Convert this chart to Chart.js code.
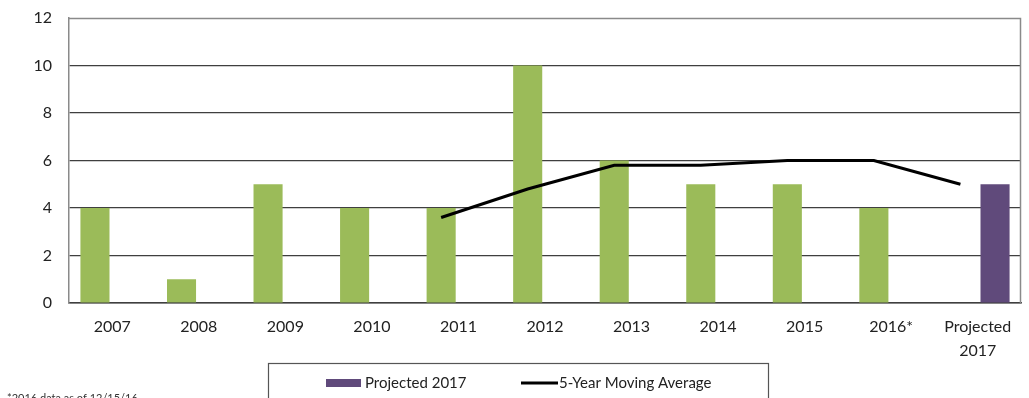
<!DOCTYPE html>
<html>
<head>
<meta charset="utf-8">
<script src="https://cdn.jsdelivr.net/npm/chart.js@4/dist/chart.umd.min.js"></script>
<style>
  html, body { margin: 0; padding: 0; background: #fff; }
  #wrap { width: 1029px; height: 398px; position: relative; }
</style>
</head>
<body>
<div id="wrap"><canvas id="c"></canvas></div>
<script>
// Category labels (multi-line where needed)
const categories = ['2007', '2008', '2009', '2010', '2011', '2012', '2013', '2014', '2015', '2016*', ['Projected', '2017']];
// Yearly counts (green bars); the projected year has no actual value
const actualValues = [4, 1, 5, 4, 4, 10, 6, 5, 5, 4, null];
// Projection for 2017 (purple bar)
const projectedValues = [null, null, null, null, null, null, null, null, null, null, 5];
// 5-year moving average, starting at 2011
const movingAverage = [null, null, null, null, 3.6, 4.8, 5.8, 5.8, 6, 6, 5];
// Value axis ticks
const yTicks = [0, 2, 4, 6, 8, 10, 12];
const footnote = '*2016 data as of 12/15/16';

const GREEN = '#9BBB59';
const PURPLE = '#604A7B';
const GRID_DARK = '#3f3f3f';
const BORDER_GREY = '#8a8a8a';
const FONT = 'Lato, "Open Sans", sans-serif';

// Each category holds two side-by-side slots: actual (left) and projected (right)
const GROUP_PCT = 0.8;
const slotShift = GROUP_PCT / 4;
const SLOT_PCT = GROUP_PCT / 2;
const BAR_PCT = 0.84;

// Convert a per-category series into points on the index axis, shifted into its slot
const toPoints = (values, shift) => values
  .map((v, i) => (v === null ? null : { x: i + shift, y: v }))
  .filter(p => p !== null);

const actualPoints = toPoints(actualValues, -slotShift);
const projectedPoints = toPoints(projectedValues, slotShift);
const averagePoints = toPoints(movingAverage, -slotShift);

// Grey frame on the top and right edges of the plot area
const frame = {
  id: 'frame',
  beforeDatasetsDraw(chart) {
    const { ctx, chartArea: a } = chart;
    ctx.save();
    ctx.strokeStyle = BORDER_GREY;
    ctx.lineWidth = 1.5;
    ctx.beginPath();
    ctx.moveTo(a.left, a.top + 0.5);
    ctx.lineTo(a.right - 0.5, a.top + 0.5);
    ctx.lineTo(a.right - 0.5, a.bottom);
    ctx.stroke();
    ctx.restore();
  }
};

// Boxed legend below the chart and the footnote
const boxLegend = {
  id: 'boxLegend',
  afterDraw(chart) {
    const { ctx, width } = chart;
    const boxW = 500, boxX = Math.round(width / 2 - boxW / 2 + 3), boxY = 363;
    ctx.save();
    ctx.strokeStyle = '#555';
    ctx.lineWidth = 1.2;
    ctx.strokeRect(boxX + 0.5, boxY + 0.5, boxW, 60);

    const y = 383;
    ctx.font = '15px ' + FONT;
    ctx.textBaseline = 'middle';

    const ds = chart.data.datasets;
    // Projected 2017 swatch
    ctx.fillStyle = ds[1].backgroundColor;
    ctx.fillRect(boxX + 58, y - 4, 35, 8);
    ctx.fillStyle = '#222';
    ctx.fillText(ds[1].label, boxX + 97, y);
    // Moving average line sample
    ctx.strokeStyle = ds[2].borderColor;
    ctx.lineWidth = 3;
    ctx.beginPath();
    ctx.moveTo(boxX + 253, y);
    ctx.lineTo(boxX + 290, y);
    ctx.stroke();
    ctx.fillText(ds[2].label, boxX + 291, y);

    ctx.font = '11px ' + FONT;
    ctx.textBaseline = 'top';
    ctx.fillStyle = '#333';
    ctx.fillText(footnote, 7, 393);
    ctx.restore();
  }
};

new Chart(document.getElementById('c'), {
  type: 'bar',
  data: {
    labels: categories,
    datasets: [
      {
        type: 'bar',
        label: 'Actual',
        data: actualPoints,
        backgroundColor: GREEN,
        grouped: false,
        categoryPercentage: SLOT_PCT,
        barPercentage: BAR_PCT,
        xAxisID: 'xs',
        order: 2
      },
      {
        type: 'bar',
        label: 'Projected 2017',
        data: projectedPoints,
        backgroundColor: PURPLE,
        grouped: false,
        categoryPercentage: SLOT_PCT,
        barPercentage: BAR_PCT,
        xAxisID: 'xs',
        order: 2
      },
      {
        type: 'line',
        label: '5-Year Moving Average',
        data: averagePoints,
        xAxisID: 'xs',
        borderColor: '#000',
        borderWidth: 3,
        pointRadius: 0,
        tension: 0,
        fill: false,
        order: 1
      }
    ]
  },
  options: {
    responsive: true,
    maintainAspectRatio: false,
    animation: false,
    layout: { padding: { top: 18, right: 8, left: 0, bottom: 0 } },
    plugins: { legend: { display: false }, tooltip: { enabled: false } },
    scales: {
      x: {
        type: 'category',
        offset: true,
        grid: { display: false, drawTicks: false },
        border: { display: true, color: GRID_DARK, width: 1.5 },
        ticks: {
          color: '#222',
          padding: 11,
          maxRotation: 0,
          autoSkip: false,
          font: { family: FONT, size: 16, lineHeight: 1.55 }
        },
        afterFit(s) { s.height = 95; }
      },
      // Numeric twin of the category axis used to place slot-shifted marks
      xs: {
        type: 'linear',
        display: false,
        offset: false,
        grace: 0,
        min: -0.5,
        max: categories.length - 0.5,
        afterBuildTicks(s) { s.ticks = categories.map((_, i) => ({ value: i })); }
      },
      y: {
        min: yTicks[0],
        max: yTicks[yTicks.length - 1],
        afterBuildTicks(s) { s.ticks = yTicks.map(v => ({ value: v })); },
        grid: {
          drawTicks: false,
          color: c => (c.tick && c.tick.value === yTicks[yTicks.length - 1] ? 'rgba(0,0,0,0)' : GRID_DARK),
          lineWidth: 1.2
        },
        border: { display: true, color: BORDER_GREY, width: 1.5 },
        ticks: {
          color: '#222',
          padding: 17,
          font: { family: FONT, size: 16 }
        },
        afterFit(s) { s.width = 69; s.paddingTop = 10; }
      }
    }
  },
  plugins: [frame, boxLegend]
});
</script>
</body>
</html>
